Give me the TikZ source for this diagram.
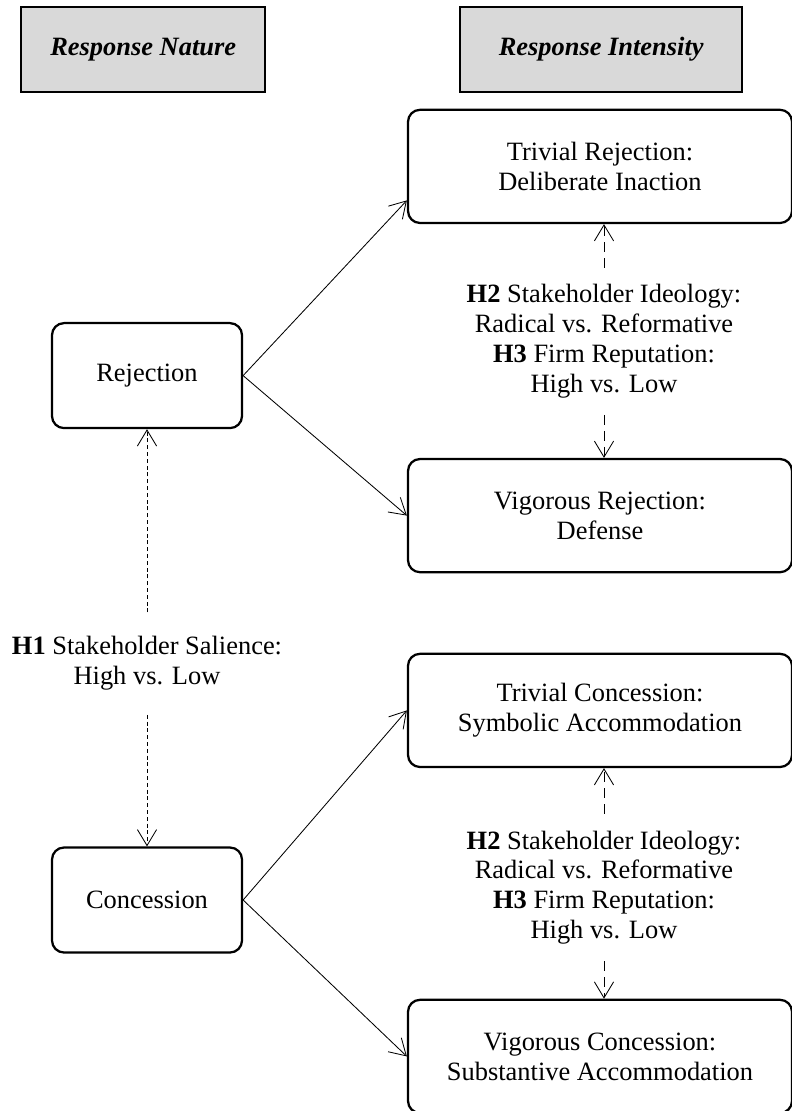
\documentclass[tikz,border=0pt]{standalone}
\usepackage{fontspec}
\setmainfont{Liberation Serif}
\usepackage{tikz}
\usetikzlibrary{positioning}
\usetikzlibrary{arrows.meta}
\usepackage{xcolor}
\definecolor{hdrgray}{RGB}{217,217,217}

\begin{document}
\begin{tikzpicture}[
    header/.style={rectangle, draw, line width=1.8pt, fill=hdrgray, minimum height=2.125cm, align=center, font=\fontsize{18.8}{21.3}\selectfont\bfseries\itshape},
    respbox/.style={rectangle, draw, line width=1.6pt, rounded corners=0.3cm, minimum width=4.75cm, minimum height=2.625cm, align=center},
    levelbox/.style={rectangle, draw, line width=1.6pt, rounded corners=0.3cm, minimum width=9.6cm, minimum height=2.83cm, align=center},
    hyp/.style={align=center, inner xsep=0pt},
    link/.style={->, line width=0.6pt},
    moderate/.style={->, line width=0.6pt, dash pattern=on 0.25cm off 0.15cm},
    salience/.style={->, line width=0.6pt, dash pattern=on 0.1cm off 0.07cm},
    >={Straight Barb[length=0.4cm,width=0.48cm]},
    font=\fontsize{18.8}{21.3}\selectfont
]
    \useasboundingbox (0,0) rectangle (19.775,-27.775);

    % Headers
    \node[header, minimum width=6.1cm] (nat) at (3.58,-1.24) {Response Nature};
    \node[header, minimum width=7.05cm] (int) at (15.03,-1.24) {Response Intensity};

    % Response nature
    \node[respbox] (rej) at (3.675,-9.39) {Rejection};
    \node[respbox] (con) at (3.675,-22.5) {Concession};

    % Response intensity
    \node[levelbox] (tr) at (15.0,-4.16) {Trivial Rejection:\\Deliberate Inaction};
    \node[levelbox] (vr) at (15.0,-12.89) {Vigorous Rejection:\\Defense};
    \node[levelbox] (tc) at (15.0,-17.76) {Trivial Concession:\\Symbolic Accommodation};
    \node[levelbox] (vc) at (15.0,-26.41) {Vigorous Concession:\\Substantive Accommodation};

    % Nature to intensity
    \draw[link] (rej.east) -- ([yshift=-0.85cm]tr.west);
    \draw[link] (rej.east) -- (vr.west);
    \draw[link] (con.east) -- (tc.west);
    \draw[link] (con.east) -- (vc.west);

    % H1
    \node[hyp, inner ysep=0.6cm] (h1) at (3.675,-16.59) {\textbf{H1} Stakeholder Salience:\\High vs. Low};
    \draw[salience] (h1.north) -- (h1.north |- rej.south);
    \draw[salience] (h1.south) -- (h1.south |- con.north);

    % H2 and H3, rejection
    \node[hyp, inner ysep=0.41cm] (h2a) at (15.1,-8.53) {\textbf{H2} Stakeholder Ideology:\\Radical vs. Reformative\\\textbf{H3} Firm Reputation:\\High vs. Low};
    \draw[moderate] (h2a.north) -- (h2a.north |- tr.south);
    \draw[moderate] (h2a.south) -- (h2a.south |- vr.north);

    % H2 and H3, concession
    \node[hyp, inner ysep=0.41cm] (h2b) at (15.1,-22.19) {\textbf{H2} Stakeholder Ideology:\\Radical vs. Reformative\\\textbf{H3} Firm Reputation:\\High vs. Low};
    \draw[moderate] (h2b.north) -- (h2b.north |- tc.south);
    \draw[moderate] (h2b.south) -- (h2b.south |- vc.north);
\end{tikzpicture}
\end{document}
